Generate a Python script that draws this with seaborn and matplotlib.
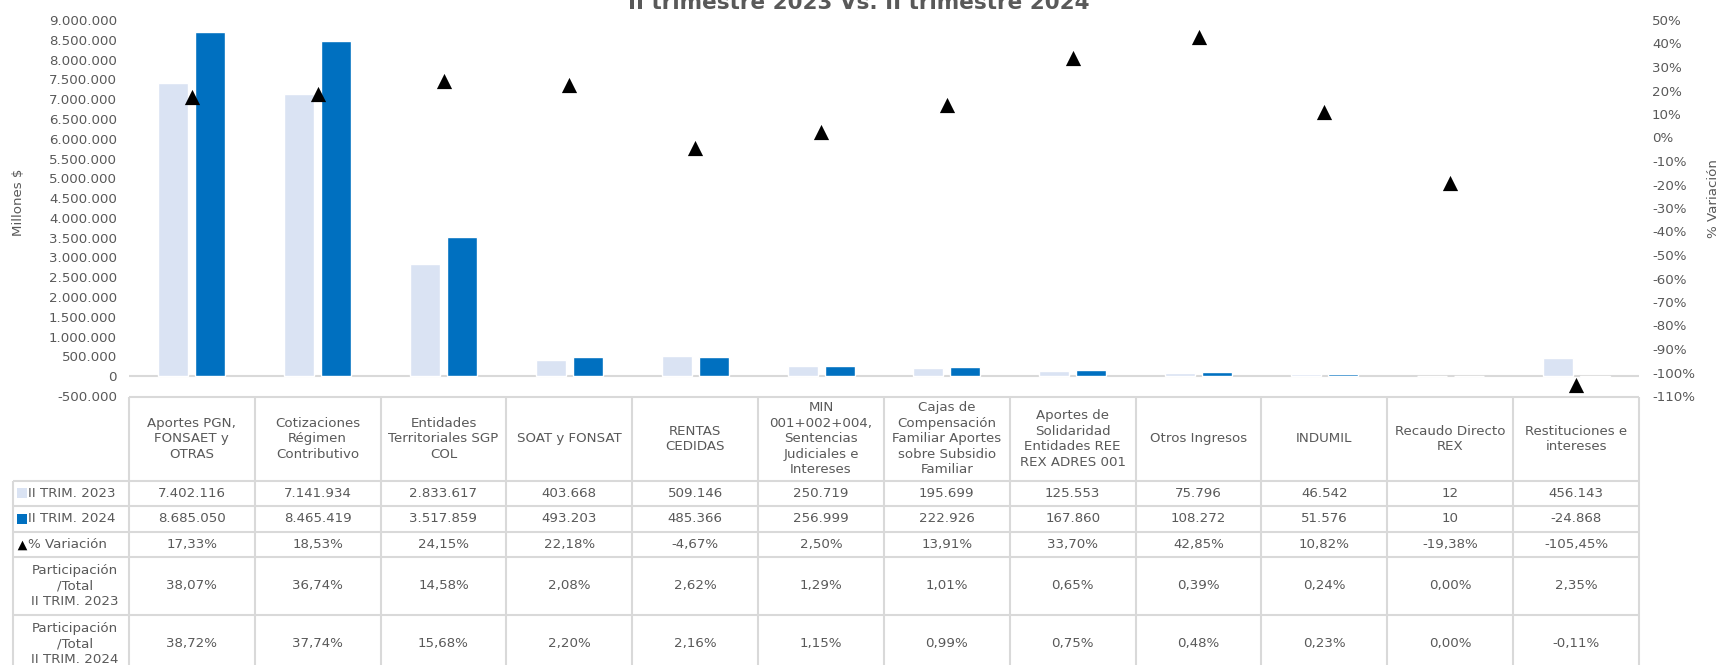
import numpy as np
import pandas as pd
import matplotlib
matplotlib.use("Agg")
import matplotlib.pyplot as plt
from matplotlib.ticker import FuncFormatter, MultipleLocator
import seaborn as sns

# ---- data -----------------------------------------------------------------
categories = [
    "Aportes PGN,\nFONSAET y\nOTRAS",
    "Cotizaciones\nRégimen\nContributivo",
    "Entidades\nTerritoriales SGP\nCOL",
    "SOAT y FONSAT",
    "RENTAS\nCEDIDAS",
    "MIN\n001+002+004,\nSentencias\nJudiciales e\nIntereses",
    "Cajas de\nCompensación\nFamiliar Aportes\nsobre Subsidio\nFamiliar",
    "Aportes de\nSolidaridad\nEntidades REE\nREX ADRES 001",
    "Otros Ingresos",
    "INDUMIL",
    "Recaudo Directo\nREX",
    "Restituciones e\nintereses",
]
series_names = ["II TRIM. 2023", "II TRIM. 2024"]
valores_2023 = [7402116, 7141934, 2833617, 403668, 509146, 250719,
                195699, 125553, 75796, 46542, 12, 456143]
valores_2024 = [8685050, 8465419, 3517859, 493203, 485366, 256999,
                222926, 167860, 108272, 51576, 10, -24868]
variacion = [17.33, 18.53, 24.15, 22.18, -4.67, 2.50,
             13.91, 33.70, 42.85, 10.82, -19.38, -105.45]
participacion_2023 = [38.07, 36.74, 14.58, 2.08, 2.62, 1.29,
                      1.01, 0.65, 0.39, 0.24, 0.00, 2.35]
participacion_2024 = [38.72, 37.74, 15.68, 2.20, 2.16, 1.15,
                      0.99, 0.75, 0.48, 0.23, 0.00, -0.11]
titulo = "II trimestre 2023 Vs. II trimestre 2024"
etiqueta_var = "% Variación"
etiqueta_part_2023 = "Participación\n/Total\nII TRIM. 2023"
etiqueta_part_2024 = "Participación\n/Total\nII TRIM. 2024"

# ---- style ----------------------------------------------------------------
GRAY = "#595959"
LINE = "#d9d9d9"
COLOR_2023 = "#dae3f3"
COLOR_2024 = "#0070c0"
FS = 9.6

sns.set_style("white")
plt.rcParams["font.family"] = ["DejaVu Sans"]
plt.rcParams["font.size"] = FS
plt.rcParams["text.color"] = GRAY


def miles(v, _pos=None):
    s = f"{abs(int(round(v))):,}".replace(",", ".")
    return ("-" if v < 0 else "") + s


def pct(v):
    return f"{v:.2f}%".replace(".", ",")


W, H = 1719, 665
fig = plt.figure(figsize=(W / 100, H / 100), dpi=100)

# ---- chart ----------------------------------------------------------------
ax = fig.add_axes([129 / W, 1 - 396 / H, (1639 - 129) / W, (396 - 20) / H])
df = pd.DataFrame({
    "Concepto": categories * 2,
    "Periodo": [series_names[0]] * len(categories) + [series_names[1]] * len(categories),
    "Valor": valores_2023 + valores_2024,
})
ax.axhline(0, color=LINE, lw=1.5, zorder=0.5)
sns.barplot(data=df, x="Concepto", y="Valor", hue="Periodo",
            order=categories, hue_order=series_names,
            palette={series_names[0]: COLOR_2023, series_names[1]: COLOR_2024},
            saturation=1, width=0.588, gap=0.19, errorbar=None,
            legend=False, ax=ax, zorder=2)
ax.set_ylim(-500000, 9000000)
ax.yaxis.set_major_locator(MultipleLocator(500000))
ax.yaxis.set_major_formatter(FuncFormatter(miles))
ax.set_xticks([])
ax.set_xlabel("")
ax.set_ylabel("")
ax.tick_params(axis="y", length=0, pad=8.6, labelcolor=GRAY, labelsize=FS)
for s in ax.spines.values():
    s.set_visible(False)

ax2 = ax.twinx()
sns.scatterplot(x=np.arange(len(categories)), y=variacion, marker="^", s=120,
                color="black", edgecolor="black", linewidth=0, ax=ax2,
                zorder=5, clip_on=False)
ax2.set_ylim(-110, 50)
ax2.yaxis.set_major_locator(MultipleLocator(10))
ax2.yaxis.set_major_formatter(FuncFormatter(lambda v, p: f"{int(round(v))}%"))
ax2.tick_params(axis="y", length=0, pad=9.4, labelcolor=GRAY, labelsize=FS)
ax2.set_ylabel("")
for s in ax2.spines.values():
    s.set_visible(False)
ax.set_xlim(-0.5, len(categories) - 0.5)

fig.text(18 / W, 1 - 202 / H, "Millones $", rotation=90, ha="center",
         va="center", color=GRAY, fontsize=FS)
fig.text(1713 / W, 1 - 199 / H, "% Variación", rotation=90, ha="center",
         va="center", color=GRAY, fontsize=FS)
fig.text(859 / W, 1 - 9 / H, titulo, ha="center", va="baseline",
         fontsize=15.5, fontweight="bold", color=GRAY)

# ---- data table -----------------------------------------------------------
row_h = [84, 25, 26, 25, 58, 58]
bounds = np.concatenate([[0], np.cumsum(row_h)])
label_w, col_w = 116, 126
n = len(categories)
x0 = -0.5 - label_w / col_w

tab = fig.add_axes([13 / W, 1 - (397 + bounds[-1]) / H,
                    (1639 - 13) / W, bounds[-1] / H])
tab.set_xlim(x0, n - 0.5)
tab.set_ylim(bounds[-1], 0)
tab.axis("off")

lkw = dict(color=LINE, lw=1.5, clip_on=False)
tab.hlines(bounds[0], -0.5, n - 0.5, **lkw)
tab.hlines(bounds[1:], x0, n - 0.5, **lkw)
tab.vlines(np.arange(n + 1) - 0.5, bounds[0], bounds[-1], **lkw)
tab.vlines(x0, bounds[1], bounds[-1], **lkw)

centers = (bounds[:-1] + bounds[1:]) / 2
for i, cat in enumerate(categories):
    tab.text(i, centers[0], cat, ha="center", va="center",
             linespacing=1.25, fontsize=FS, color=GRAY)

rows = [
    [miles(v) for v in valores_2023],
    [miles(v) for v in valores_2024],
    [pct(v) for v in variacion],
    [pct(v) for v in participacion_2023],
    [pct(v) for v in participacion_2024],
]
for r, vals in enumerate(rows, start=1):
    for i, txt in enumerate(vals):
        tab.text(i, centers[r], txt, ha="center", va="center",
                 fontsize=FS, color=GRAY)

# row headers with legend keys
x_key = x0 + 9.5 / col_w
x_lab = x0 + 15 / col_w
keys = [("s", COLOR_2023, series_names[0]),
        ("s", COLOR_2024, series_names[1]),
        ("^", "black", etiqueta_var)]
for r, (mk, col, lab) in enumerate(keys, start=1):
    tab.scatter([x_key], [centers[r]], marker=mk, s=48, color=col,
                linewidth=0, clip_on=False)
    tab.text(x_lab, centers[r], lab, ha="left", va="center",
             fontsize=FS, color=GRAY)
x_mid = x0 + 62 / col_w
tab.text(x_mid, centers[4], etiqueta_part_2023, ha="center", va="center",
         linespacing=1.25, fontsize=FS, color=GRAY)
tab.text(x_mid, centers[5], etiqueta_part_2024, ha="center", va="center",
         linespacing=1.25, fontsize=FS, color=GRAY)

fig.savefig("out.png", dpi=100)
